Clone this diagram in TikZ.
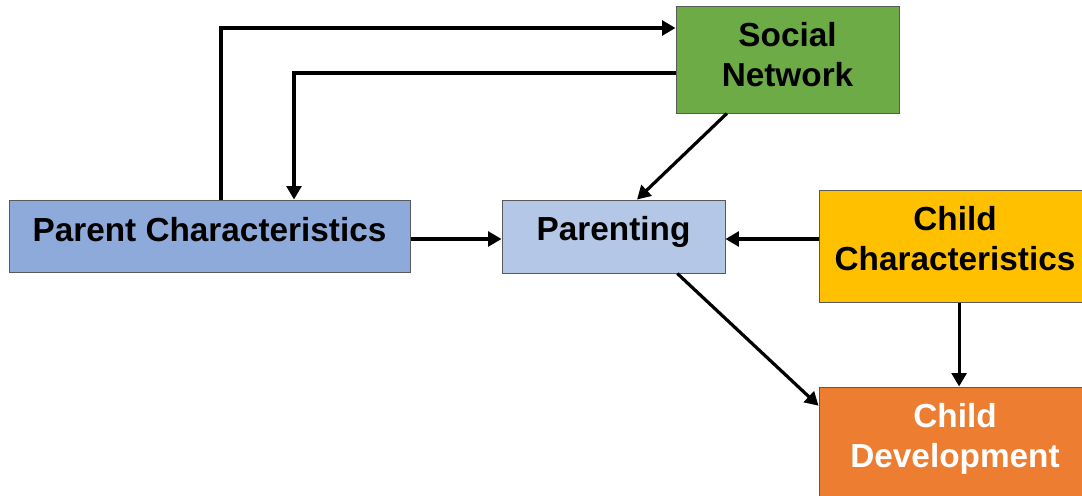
\documentclass[tikz,border=0pt]{standalone}
\usepackage{fontspec}
\setmainfont{Liberation Sans}
\usetikzlibrary{arrows.meta,calc}

\definecolor{netgreen}{HTML}{6DAB47}
\definecolor{parentblue}{HTML}{8EAADB}
\definecolor{parentingblue}{HTML}{B4C7E7}
\definecolor{childyellow}{HTML}{FFC000}
\definecolor{devorange}{HTML}{ED7D31}
\definecolor{boxline}{HTML}{595959}

\tikzset{every picture/.style={line width=0.75pt}}
\tikzset{
  procbox/.style={draw=boxline, line width=0.75pt, inner sep=0pt, align=center,
    text depth=12pt, font=\fontsize{25}{30}\selectfont\bfseries},
  link/.style={line width=2.4pt, -{Triangle[length=10pt,width=11pt]}}
}

\begin{document}
\begin{tikzpicture}[x=0.75pt,y=0.75pt,yscale=-1,xscale=1]
\useasboundingbox (0,0) rectangle (1082,496);

%Flowchart: Process
\node (social) [procbox, fill=netgreen, text depth=8pt, minimum width=167.25pt, minimum height=80.25pt] at (787.5,59.5) {Social\\Network};
%Flowchart: Process
\node (parent) [procbox, fill=parentblue, text depth=10.5pt, minimum width=300.75pt, minimum height=54pt] at (209.5,236) {Parent Characteristics};
%Flowchart: Process
\node (parenting) [procbox, fill=parentingblue, minimum width=167.25pt, minimum height=54.75pt] at (613.5,236.5) {Parenting};
%Flowchart: Process
\node (childchar) [procbox, fill=childyellow, minimum width=204pt, minimum height=84pt] at (955,246) {Child\\Characteristics};
%Flowchart: Process
\node (childdev) [procbox, fill=devorange, text=white, minimum width=204pt, minimum height=84pt] at (955,443) {Child\\Development};

% bend points
\coordinate (bendA) at (221,28);
\coordinate (bendB) at (294,73);
\coordinate (downC) at ($(childchar.south west)!0.515!(childchar.south east)$);

%Straight Lines
\draw [link] (parent.north -| bendA) |- (social.west |- bendA);
%Straight Lines
\draw [link] (social.west |- bendB) -| (parent.north -| bendB);
%Straight Lines
\draw [link] ($(social.south west)!0.229!(social.south east)$) -- ($(parenting.north west)!0.605!(parenting.north east)$);
%Straight Lines
\draw [link] (parent.east |- 0,239) -- (parenting.west |- 0,239);
%Straight Lines
\draw [link] (childchar.west |- 0,239) -- (parenting.east |- 0,239);
%Straight Lines
\draw [link] ($(parenting.south west)!0.785!(parenting.south east)$) -- ($(childdev.north west)!0.17!(childdev.south west)$);
%Straight Lines
\draw [link] (downC) -- (childdev.north -| downC);

\end{tikzpicture}
\end{document}
